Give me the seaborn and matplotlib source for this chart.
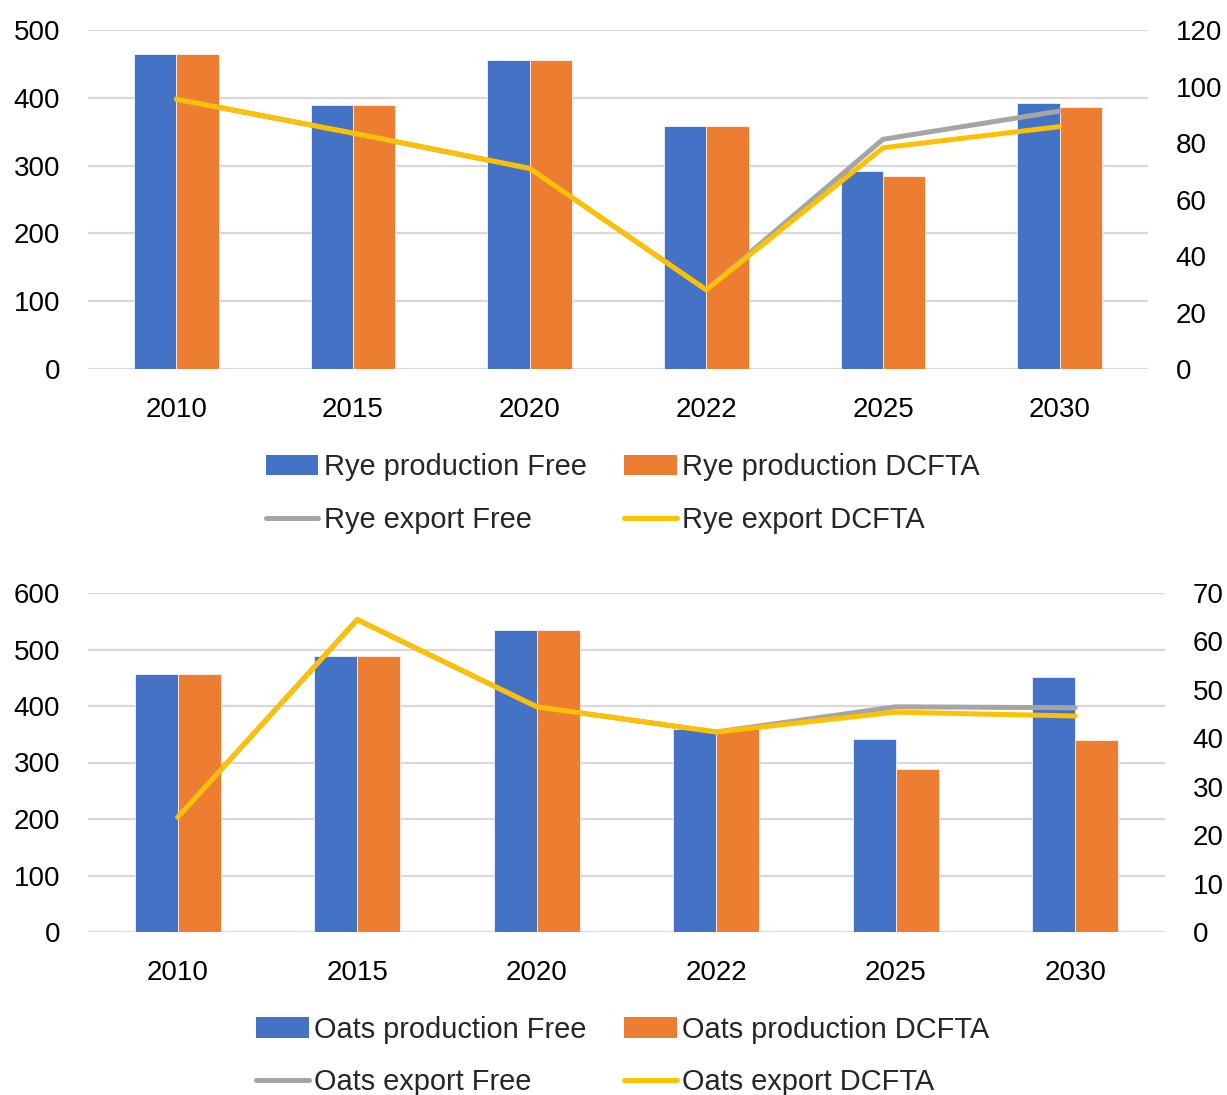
import numpy as np
import pandas as pd
import matplotlib
matplotlib.use('Agg')
import matplotlib.pyplot as plt
import seaborn as sns
from matplotlib.patches import Patch
from matplotlib.lines import Line2D

# ---- data ----
years = ['2010', '2015', '2020', '2022', '2025', '2030']

rye_prod_free = [465, 390, 456, 358, 292, 392]
rye_prod_dcfta = [465, 390, 456, 358, 285, 386]
rye_export_free = [95.5, 83.5, 71, 28, 81.3, 91.3]
rye_export_dcfta = [95.5, 83.5, 71, 28, 78.3, 85.8]

oats_prod_free = [457, 488, 534, 360, 342, 451]
oats_prod_dcfta = [457, 488, 534, 360, 288, 339]
oats_export_free = [23.7, 64.5, 46.5, 41.3, 46.5, 46.3]
oats_export_dcfta = [23.7, 64.5, 46.5, 41.3, 45.4, 44.6]

BLUE = '#4472C4'
ORANGE = '#ED7D31'
GREY = '#A5A5A5'
YELLOW = '#FFC000'
GRID = '#D9D9D9'

sns.set_style('white')
plt.rcParams['font.family'] = ['Liberation Sans', 'DejaVu Sans']

W, H = 1227, 1095
fig = plt.figure(figsize=(W / 100, H / 100), dpi=100)

FS = 20
LFS = 20.9
LW = 3.6
PAD = 20


def panel(rect, crop, pf, pd_, ef, ed, lmax, lstep, rmax, rstep, leg_y):
    ax = fig.add_axes(rect)
    df = pd.DataFrame({
        'year': years * 2,
        'value': pf + pd_,
        'series': [f'{crop} production Free'] * len(years) + [f'{crop} production DCFTA'] * len(years),
    })
    sns.barplot(data=df, x='year', y='value', hue='series', palette=[BLUE, ORANGE],
                width=0.48, gap=0, dodge=True, saturation=1, legend=False,
                edgecolor='white', linewidth=0.5, ax=ax, errorbar=None)
    ax.set_ylim(0, lmax)
    ax.set_yticks(np.arange(0, lmax + 1, lstep))
    ax.set_xlim(-0.5, len(years) - 0.5)
    ax.yaxis.grid(True, color=GRID, lw=1.6)
    ax.set_axisbelow(True)
    for s in ax.spines.values():
        s.set_visible(False)
    ax.tick_params(axis='y', length=0, pad=PAD, labelsize=FS, colors='black')
    ax.tick_params(axis='x', length=0, pad=PAD, labelsize=FS, colors='black')
    ax.set_xlabel('')
    ax.set_ylabel('')

    ax2 = ax.twinx()
    x = np.arange(len(years))
    sns.lineplot(x=x, y=ef, color=GREY, lw=LW, ax=ax2, solid_capstyle='round',
                 solid_joinstyle='round')
    sns.lineplot(x=x, y=ed, color=YELLOW, lw=LW, ax=ax2, solid_capstyle='round',
                 solid_joinstyle='round')
    ax2.set_ylim(0, rmax)
    ax2.set_yticks(np.arange(0, rmax + 1, rstep))
    ax2.grid(False)
    for s in ax2.spines.values():
        s.set_visible(False)
    ax2.tick_params(axis='y', length=0, pad=PAD, labelsize=FS, colors='black')
    ax2.set_ylabel('')
    ax2.set_xlim(-0.5, len(years) - 0.5)

    handles = [
        Patch(facecolor=BLUE, edgecolor='none'),
        Line2D([], [], color=GREY, lw=LW, solid_capstyle='round'),
        Patch(facecolor=ORANGE, edgecolor='none'),
        Line2D([], [], color=YELLOW, lw=LW, solid_capstyle='round'),
    ]
    labels = [f'{crop} production Free', f'{crop} export Free',
              f'{crop} production DCFTA', f'{crop} export DCFTA']
    fig.legend(handles, labels, ncol=2, loc='center', bbox_to_anchor=(623 / W, leg_y),
               frameon=False, fontsize=LFS, handlelength=1.8, handletextpad=0.2,
               columnspacing=1.3, labelspacing=0.85, borderaxespad=0, borderpad=0)


panel([88 / W, 1 - 369 / H, (1148 - 88) / W, 339 / H], 'Rye',
      rye_prod_free, rye_prod_dcfta, rye_export_free, rye_export_dcfta,
      500, 100, 120, 20, 1 - 493.5 / H)
panel([88 / W, 1 - 932 / H, (1165 - 88) / W, 339 / H], 'Oats',
      oats_prod_free, oats_prod_dcfta, oats_export_free, oats_export_dcfta,
      600, 100, 70, 10, 1 - 1056 / H)

fig.savefig('out.png', dpi=100)
